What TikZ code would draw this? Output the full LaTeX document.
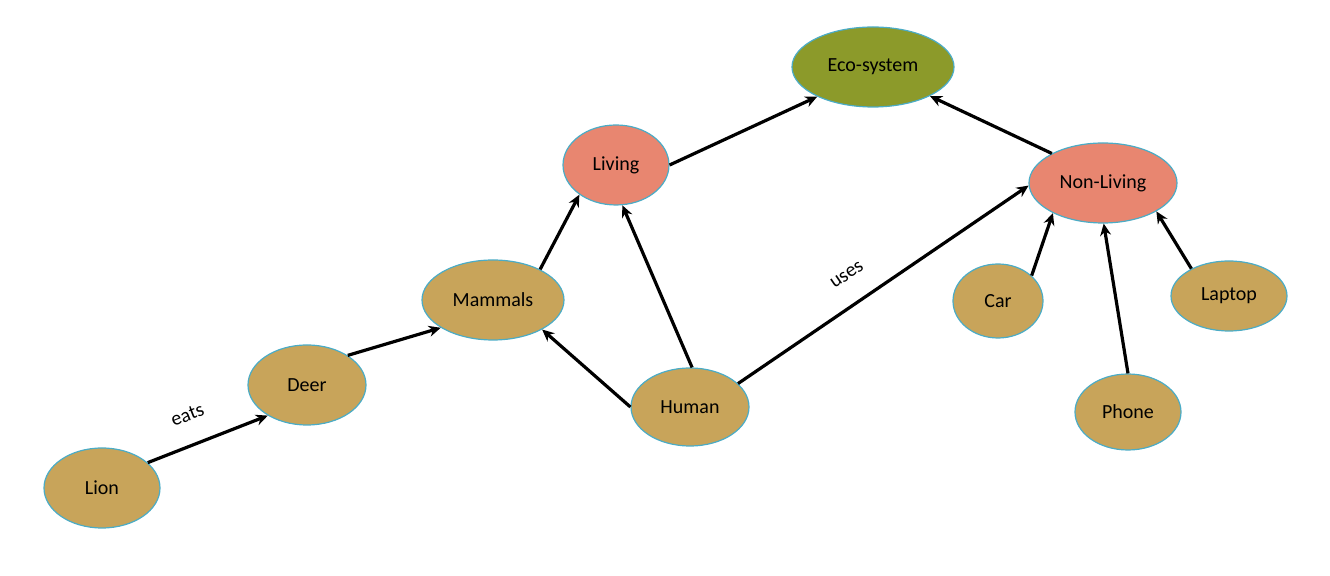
\documentclass[tikz,border=0pt]{standalone}
\usepackage{fontspec}
\setmainfont{Carlito}
\usetikzlibrary{shapes.geometric,arrows.meta}
\definecolor{tan}{RGB}{200,164,90}
\definecolor{salmon}{RGB}{232,134,112}
\definecolor{olive}{RGB}{140,154,42}
\definecolor{rim}{RGB}{75,172,198}
\begin{document}
\begin{tikzpicture}[x=0.5pt,y=-0.5pt,
    blob/.style={ellipse,draw=rim,line width=0.6pt,inner sep=0pt,font=\fontsize{10}{12}\selectfont},
    link/.style={line width=1.6pt,-{Stealth[length=6pt,width=5.5pt]}},
    tag/.style={sloped,above=10pt,inner sep=1pt,font=\fontsize{10}{12}\selectfont}]
    \useasboundingbox (0,0) rectangle (1330,576);
    \node [blob,fill=tan,minimum width=58pt,minimum height=40pt] (lion) at (102,488) {Lion};
    \node [blob,fill=tan,minimum width=59pt,minimum height=40pt] (deer) at (307,385) {Deer};
    \node [blob,fill=tan,minimum width=71pt,minimum height=40pt] (mammals) at (493,300) {Mammals};
    \node [blob,fill=salmon,minimum width=53pt,minimum height=40pt] (living) at (616,165) {Living};
    \node [blob,fill=olive,minimum width=81pt,minimum height=40pt] (eco) at (873,67) {Eco-system};
    \node [blob,fill=salmon,minimum width=74pt,minimum height=40pt] (nonliving) at (1103,183) {Non-Living};
    \node [blob,fill=tan,minimum width=59pt,minimum height=39pt] (human) at (690,407) {Human};
    \node [blob,fill=tan,minimum width=45pt,minimum height=37pt] (car) at (998,301) {Car};
    \node [blob,fill=tan,minimum width=58pt,minimum height=35pt] (laptop) at (1229,296) {Laptop};
    \node [blob,fill=tan,minimum width=53pt,minimum height=38pt] (phone) at (1128,412) {Phone};
    \draw [link] (lion.29) -- node [tag,pos=0.42] (eats) {eats} (deer.218);
    \draw [link] (deer.36) -- (mammals.208);
    \draw [link] (mammals.33) -- (living.219);
    \draw [link] (human.87) -- (living.279);
    \draw [link] (human.180) -- (mammals.329);
    \draw [link] (living.0) -- (eco.208);
    \draw [link] (nonliving.150) -- (eco.333);
    \draw [link] (human.26) -- node [tag,pos=0.43] (uses) {uses} (nonliving.182);
    \draw [link] (car.37) -- (nonliving.211);
    \draw [link] (phone.90) -- (nonliving.271);
    \draw [link] (laptop.144) -- (nonliving.332);
\end{tikzpicture}
\end{document}
